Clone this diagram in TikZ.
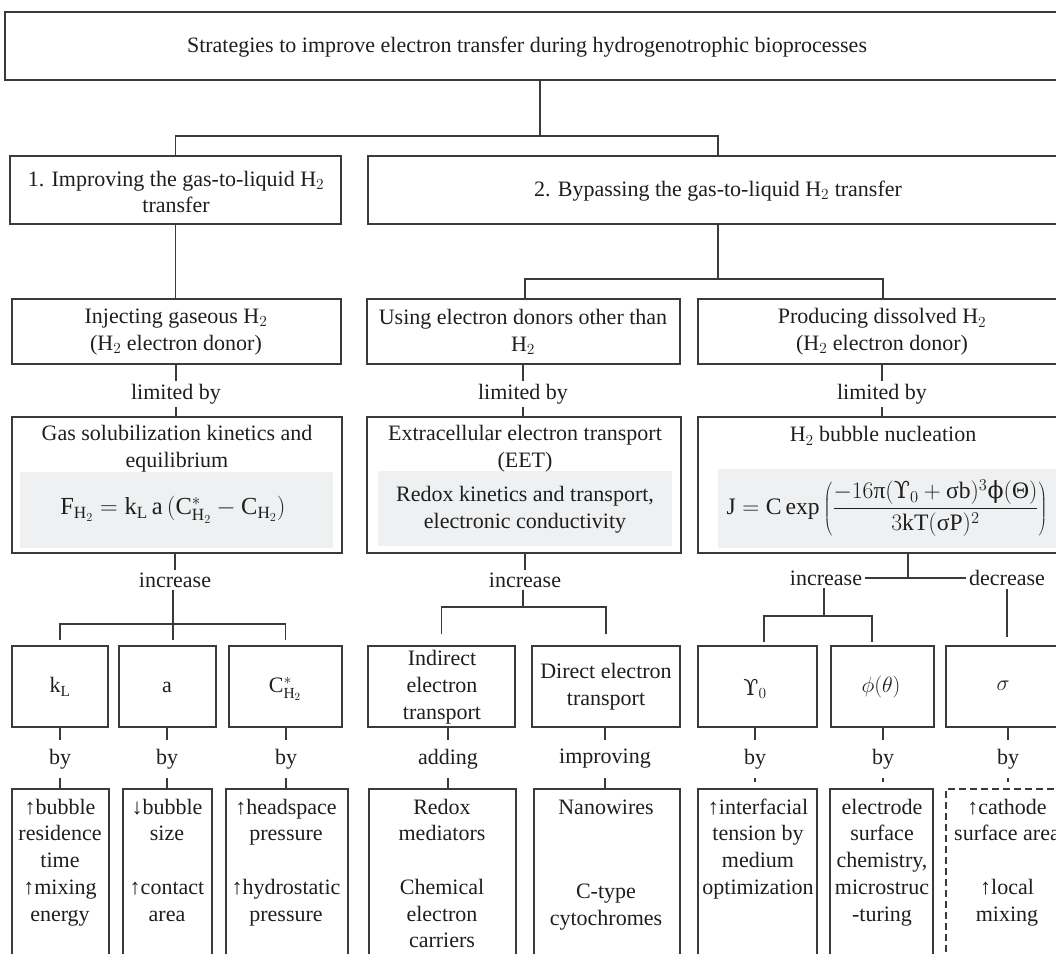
\RequirePackage{fix-cm}
\documentclass[tikz,border=0pt]{standalone}
\usepackage{fontspec}
\setmainfont{Liberation Serif}
\newfontfamily\dvs{DejaVu Serif}
\usetikzlibrary{calc}
\definecolor{linec}{HTML}{3A3A3A}
\definecolor{textc}{HTML}{1E1E1E}
\definecolor{grayfill}{HTML}{EFF0F1}
\newcommand{\fs}{\fontsize{22}{26.7}\selectfont}
\newcommand{\mybox}[6]{\node[#1, minimum width={(#5-#3)*1pt}, minimum height={(#6-#4)*1pt}] (#2) at (#3,#4) {};}
\newcommand{\Ups}{\mbox{\dvs ϒ}}
\begin{document}
\begin{tikzpicture}[x=1pt,y=-1pt,font=\fs,text=textc,
  box/.style={draw=linec, line width=1.4pt, inner sep=0pt, outer sep=0pt, anchor=north west},
  dbox/.style={box, dash pattern=on 7pt off 4pt},
  gbox/.style={fill=grayfill, draw=none, inner sep=0pt, outer sep=0pt, anchor=north west},
  conn/.style={draw=linec, line width=1.1pt},
  lbl/.style={inner sep=3pt, outer sep=0pt},
  bylbl/.style={inner xsep=3pt, inner ysep=9pt, outer sep=0pt},
  blk/.style={align=center, anchor=north, inner sep=0pt},
  ctr/.style={align=center, inner sep=0pt}]
\useasboundingbox (0,0) rectangle (1056,953);
\clip (0,0) rectangle (1056,953);

% gray panels
\mybox{gbox}{g4a}{20}{472}{333}{548}
\mybox{gbox}{g4b}{378}{471}{672}{546}
\mybox{gbox}{g4c}{718}{469}{1075}{548}

% boxes
\mybox{box}{top}{5}{12}{1075}{80}
\mybox{box}{b1}{10}{156}{341}{224}
\mybox{box}{b2}{368}{156}{1075}{224}
\mybox{box}{r3a}{12}{299}{341}{364}
\mybox{box}{r3b}{367}{299}{680}{364}
\mybox{box}{r3c}{698}{299}{1075}{364}
\mybox{box}{r4a}{12}{417}{342}{553}
\mybox{box}{r4b}{367}{417}{681}{553}
\mybox{box}{r4c}{698}{417}{1075}{553}
\mybox{box}{r5k}{12}{646}{108}{727}
\mybox{box}{r5a}{119}{646}{216}{727}
\mybox{box}{r5c}{229}{646}{342}{727}
\mybox{box}{r5i}{368}{646}{515}{727}
\mybox{box}{r5d}{532}{646}{680}{727}
\mybox{box}{r5y}{698}{646}{817}{727}
\mybox{box}{r5p}{831}{646}{934}{727}
\mybox{box}{r5s}{946}{646}{1075}{727}
\mybox{box}{r6k}{12}{789}{109}{980}
\mybox{box}{r6a}{123}{789}{212}{980}
\mybox{box}{r6c}{226}{789}{348}{980}
\mybox{box}{r6r}{369}{789}{516}{980}
\mybox{box}{r6n}{534}{789}{680}{980}
\mybox{box}{r6y}{698}{789}{817}{980}
\mybox{box}{r6p}{830}{789}{933}{980}
\mybox{dbox}{r6s}{946}{789}{1075}{980}

% texts
\node[ctr] (ttop) at (527,47) {Strategies to improve electron transfer during hydrogenotrophic bioprocesses};
\node[ctr] (tb1) at (176,192) {1. Improving the gas-to-liquid H$_2$\\transfer};
\node[ctr] (tb2) at (718,191) {2. Bypassing the gas-to-liquid H$_2$ transfer};
\node[ctr] (t3a) at (176,332) {Injecting gaseous H$_2$\\(H$_2$ electron donor)};
\node[ctr] (t3b) at (523,332) {Using electron donors other than\\H$_2$};
\node[ctr] (t3c) at (882,332) {Producing dissolved H$_2$\\(H$_2$ electron donor)};
\node[ctr] (t4a) at (177,449) {Gas solubilization kinetics and\\equilibrium};
\node[ctr, font=\fontsize{24.5}{29}\selectfont] (f4a) at (173,510) {$\mathrm{F}_{\mathrm{H}_2}=\mathrm{k}_{\mathrm{L}}\,\mathrm{a}\,(\mathrm{C}^{*}_{\mathrm{H}_2}-\mathrm{C}_{\mathrm{H}_2})$};
\node[ctr] (t4b) at (525,449) {Extracellular electron transport\\(EET)};
\node[ctr] (f4b) at (525,510) {Redox kinetics and transport,\\electronic conductivity};
\node[ctr] (t4c) at (883,436) {H$_2$ bubble nucleation};
\node[ctr, font=\fontsize{23.6}{28}\selectfont] (f4c) at (887,508) {$\displaystyle \mathrm{J}=\mathrm{C}\exp\left(\frac{-16\mbox{π}(\Ups_0+\mbox{σ}\mathrm{b})^3\mbox{\dvs ϕ}(\mbox{Θ})}{3\mathrm{kT}(\mbox{σ}\mathrm{P})^2}\right)$};

\node[ctr] (t5k) at (60,687) {$\mathrm{k}_{\mathrm{L}}$};
\node[ctr] (t5a) at (167,687) {a};
\node[ctr] (t5c) at (285,689) {$\mathrm{C}^{*}_{\mathrm{H}_2}$};
\node[ctr] (t5i) at (442,687) {Indirect\\electron\\transport};
\node[ctr] (t5d) at (606,687) {Direct electron\\transport};
\node[ctr] (t5y) at (755,689) {$\Ups_0$};
\node[ctr] (t5p) at (881,687) {$\phi(\theta)$};
\node[ctr] (t5s) at (1003,686) {$\sigma$};

\node[blk] (t6k) at (60,795.3) {\strut ↑bubble\\residence\\time\\↑mixing\\energy};
\node[blk] (t6a) at (167,795.3) {\strut ↓bubble\\size\\[26.7pt]↑contact\\area};
\node[blk] (t6c) at (286,795.3) {\strut ↑headspace\\pressure\\[26.7pt]↑hydrostatic\\pressure};
\node[blk] (t6r) at (442,795.3) {\strut Redox\\mediators\\[26.7pt]Chemical\\electron\\carriers};
\node[blk] (t6n) at (606,795.3) {\strut Nanowires\\[58pt]C-type\\cytochromes};
\node[blk] (t6y) at (758,795.3) {\strut ↑interfacial\\tension by\\medium\\optimization};
\node[blk] (t6p) at (882,795.3) {\strut electrode\\surface\\chemistry,\\microstruc\\-turing};
\node[blk] (t6s) at (1007,795.3) {\strut ↑cathode\\surface area\\[26.7pt]↑local\\mixing};

% labels
\node[lbl] (lim1) at (176,394) {limited by};
\node[lbl] (lim2) at (523,394) {limited by};
\node[lbl] (lim3) at (882,394) {limited by};
\node[lbl] (inc1) at (175,580) {increase};
\node[lbl] (inc2) at (525,580) {increase};
\node[lbl] (inc3) at (826,578) {increase};
\node[lbl] (dec3) at (1007,578) {decrease};
\node[bylbl] (by1) at (60,759) {by};
\node[bylbl] (by2) at (167,759) {by};
\node[bylbl] (by3) at (286,759) {by};
\node[bylbl] (add) at (448,759) {adding};
\node[bylbl] (imp) at (605,759) {improving};
\node[bylbl] (by6) at (755,759) {by};
\node[bylbl] (by7) at (883,759) {by};
\node[bylbl] (by8) at (1008,759) {by};

% connectors level 1-2
\coordinate (j0) at (540,136);
\coordinate (j0r) at (718,136);
\draw[conn] (top.south) -- (j0);
\draw[conn] (b1.north) |- (j0r) -- (b2.north -| j0r);
% level 2-3
\draw[conn] (b1.south) -- (r3a.north -| b1.south);
\coordinate (j1) at (718,279);
\coordinate (j1l) at (525,279);
\coordinate (j1r) at (883,279);
\draw[conn] (b2.south -| j1) -- (j1);
\draw[conn] (r3b.north -| j1l) |- (j1r) -- (r3c.north -| j1r);
% level 3-4
\draw[conn] (r3a.south -| lim1) -- (lim1.north);
\draw[conn] (lim1.south) -- (r4a.north -| lim1);
\draw[conn] (r3b.south -| lim2) -- (lim2.north);
\draw[conn] (lim2.south) -- (r4b.north -| lim2);
\draw[conn] (r3c.south -| lim3) -- (lim3.north);
\draw[conn] (lim3.south) -- (r4c.north -| lim3);
% level 4-5 left
\coordinate (j5a) at (173,624);
\draw[conn] (r4a.south -| inc1) -- (inc1.north);
\draw[conn] (inc1.south -| j5a) -- (j5a);
\draw[conn] ($(r5k.north)+(0,-6)$) |- (j5a) -| ($(r5c.north)+(0,-6)$);
\draw[conn] (j5a) -- ($(r5a.north -| j5a)+(0,-6)$);
% level 4-5 middle
\coordinate (j5b) at (523,607);
\draw[conn] (r4b.south -| inc2) -- (inc2.north);
\draw[conn] (inc2.south -| j5b) -- (j5b);
\draw[conn] ($(r5i.north)+(0,-12)$) |- (j5b) -| ($(r5d.north)+(0,-12)$);
% level 4-5 right
\coordinate (j5c) at (908,578);
\draw[conn] (r4c.south -| j5c) -- (j5c);
\draw[conn] (inc3.east) -- (dec3.west);
\coordinate (j5d) at (824,616);
\coordinate (j5dl) at (764,616);
\coordinate (j5dr) at (872,616);
\draw[conn] (inc3.south -| j5d) -- (j5d);
\draw[conn] ($(r5y.north -| j5dl)+(0,-4)$) |- (j5dr) -- ($(r5p.north -| j5dr)+(0,-4)$);
\draw[conn] (dec3.south) -- ($(r5s.north -| dec3)+(0,-9)$);
% level 5-6
\foreach \u/\l/\d in {r5k/by1/r6k, r5a/by2/r6a, r5c/by3/r6c, r5i/add/r6r, r5d/imp/r6n}{
  \draw[conn] (\u.south -| \l) -- (\l.north);
  \draw[conn] (\l.south) -- (\d.north -| \l);
}
\foreach \u/\l/\d in {r5y/by6/r6y, r5p/by7/r6p, r5s/by8/r6s}{
  \draw[conn] (\u.south -| \l) -- (\l.north);
  \draw[conn] (\l.south) -- ($(\d.north -| \l)+(0,-7)$);
}
\end{tikzpicture}
\end{document}
